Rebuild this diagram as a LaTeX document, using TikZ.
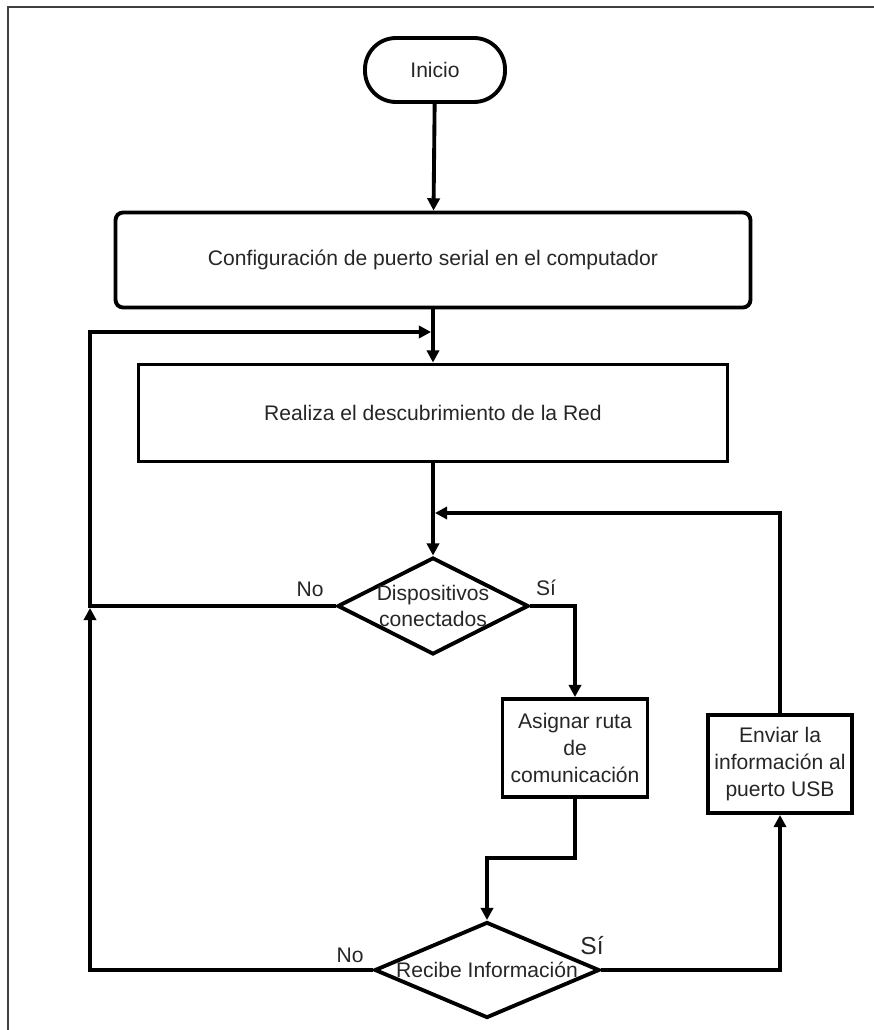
\documentclass[tikz,border=0pt]{standalone}
\usepackage{fontspec}
\setmainfont{Liberation Sans}
\usetikzlibrary{positioning, arrows.meta, shapes.geometric}

\begin{document}
\begin{tikzpicture}[x=0.02cm, y=-0.02cm,
  every node/.style={inner sep=1.5pt, text=black!85, font=\fontsize{12}{15.3}\selectfont},
  flow/.style={line width=2.2pt},
  arr/.style={flow, -{Triangle[length=7pt,width=7pt]}},
  box/.style={draw, line width=2.2pt, rectangle, align=center},
  decision/.style={draw, line width=2.2pt, diamond, inner sep=0pt}]
  \useasboundingbox (0,0) rectangle (873,1030);
  \draw[black!75, line width=0.8pt] (8,1040) -- (8,7) -- (880,7);

  % nodes
  \node[box, rounded corners=0.62cm, minimum width=2.8cm, minimum height=1.28cm] (inicio) at (435,70) {Inicio};
  \node[box, rounded corners=0.15cm, minimum width=12.7cm, minimum height=1.9cm] (config) at (433,260) {Configuración de puerto serial en el computador};
  \node[box, minimum width=11.78cm, minimum height=1.94cm] (realiza) at (433,413) {Realiza el descubrimiento de la Red};
  \node[decision, minimum width=3.82cm, minimum height=1.94cm,
        label={[align=center]center:Dispositivos\\conectados}] (disp) at (433,606) {};
  \node[box, minimum width=2.9cm, minimum height=1.96cm] (asignar) at (575,748) {Asignar ruta\\de\\comunicación};
  \node[box, minimum width=2.88cm, minimum height=1.96cm] (enviar) at (780,764) {Enviar la\\información al\\puerto USB};
  \node[decision, minimum width=4.5cm, minimum height=1.92cm,
        label={center:Recibe Información}] (recibe) at (487,970) {};

  % labels
  \node (no1) at (310,589) {No};
  \node (si1) at (546,588) {Sí};
  \node (no2) at (350,955) {No};
  \node[font=\fontsize{14}{16}\selectfont] (si2) at (592,946) {Sí};

  % corners
  \coordinate (nwA) at (90,332);
  \coordinate (nwB) at (90,606);
  \coordinate (nwC) at (90,970);
  \coordinate (inA) at (433,332);
  \coordinate (neA) at (780,513);
  \coordinate (inB) at (433,513);
  \coordinate (siA) at (575,606);
  \coordinate (stepA) at (575,858);
  \coordinate (stepB) at (487,858);
  \coordinate (siB) at (780,970);

  % connectors
  \draw[arr] (inicio) -- (config);
  \draw[arr] (config) -- (realiza);
  \draw[arr] (realiza) -- (disp);
  \draw[arr, shorten >=1.1pt] (disp.west) -- (nwB) -- (nwA) -- (inA);
  \draw[arr, shorten >=1.1pt] (recibe.west) -- (nwC) -- (nwB);
  \draw[arr] (disp.east) -- (siA) -- (asignar);
  \draw[arr] (asignar) -- (stepA) -- (stepB) -- (recibe);
  \draw[arr] (recibe.east) -- (siB) -- (enviar);
  \draw[arr, shorten >=1.1pt] (enviar) -- (neA) -- (inB);
\end{tikzpicture}
\end{document}
